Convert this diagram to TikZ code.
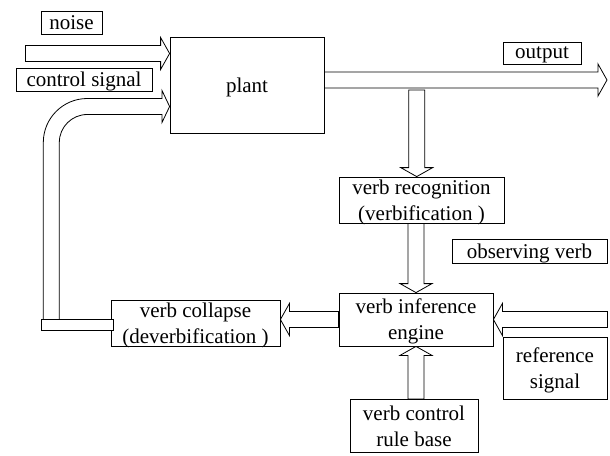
\documentclass[tikz,border=0pt]{standalone}
\usepackage{fontspec}
\newfontfamily\timesfont{Liberation Serif}
\usetikzlibrary{calc,backgrounds}

\tikzset{
  box/.style={draw=black, fill=white, line width=0.8pt, inner sep=0pt,
              align=center, text depth=0pt, font=\timesfont\fontsize{21}{26}\selectfont},
  fat/.style={draw=black, fill=white, line width=0.8pt, line join=miter},
}

% Block arrow from tail #1 to tip #2: shaft 16pt wide, head 32pt wide, 9pt long
\newcommand\fatarrow[2]{%
  \coordinate (fa-base) at ($(#2)!9pt!(#1)$);
  \draw[fat] ($(#1)!8pt!90:(#2)$) -- ($(fa-base)!8pt!90:(#2)$)
    -- ($(fa-base)!16pt!90:(#2)$) -- (#2)
    -- ($(fa-base)!16pt!-90:(#2)$) -- ($(fa-base)!8pt!-90:(#2)$)
    -- ($(#1)!8pt!-90:(#2)$) -- cycle;
}

\begin{document}
\begin{tikzpicture}[x=1pt,y=-1pt]
\useasboundingbox (0,0) rectangle (610,455);

% blocks and labels
\node[box, minimum width=61,  minimum height=23] (noise)    at (71.5,22.5) {noise};
\node[box, minimum width=136, minimum height=23] (ctrl)     at (84,79.5)   {control signal};
\node[box, minimum width=154, minimum height=96] (plant)    at (247,85)    {plant};
\node[box, minimum width=78,  minimum height=22] (out)      at (542,53)    {output};
\node[box, minimum width=165, minimum height=46] (recog)    at (421.5,200) {verb recognition\\(verbification )};
\node[box, minimum width=155, minimum height=24] (obs)      at (529.5,251) {observing verb};
\node[box, minimum width=154, minimum height=53] (engine)   at (416,319.5) {verb inference\\engine};
\node[box, minimum width=169, minimum height=46] (collapse) at (195.5,323) {verb collapse\\(deverbification )};
\node[box, minimum width=104, minimum height=62] (refsig)   at (555,368)   {reference\\signal};
\node[box, minimum width=128, minimum height=53] (rules)    at (414,426)   {verb control\\rule base};
\node[fat, inner sep=0pt, minimum width=72, minimum height=11] (fbbar) at (77,324.5) {};

% signal flow
\begin{scope}[on background layer]
  % disturbance input
  \coordinate (noiseTail) at (25.5,53.5);
  \coordinate (noiseTip)  at (plant.west |- noiseTail);
  \fatarrow{noiseTail}{noiseTip}

  % plant output
  \coordinate (outLevel) at (0,80);
  \coordinate (outTail)  at (plant.east |- outLevel);
  \coordinate (outTip)   at (607,80);
  \fatarrow{outTail}{outTip}

  % measurement tap to verb recognition
  \coordinate (tapTail) at (416.7,90);
  \coordinate (tapTip)  at (tapTail |- recog.north);
  \fatarrow{tapTail}{tapTip}

  % observed verb into the inference engine
  \coordinate (obsTail) at (engine.north |- recog.south);
  \fatarrow{obsTail}{engine.north}

  % engine to verb collapse
  \coordinate (colTip) at (collapse.east |- engine.west);
  \fatarrow{engine.west}{colTip}

  % reference signal into the engine
  \coordinate (refTail) at (refsig.east |- engine.east);
  \fatarrow{refTail}{engine.east}

  % rule base into the engine
  \coordinate (ruleTail) at (engine.south |- rules.north);
  \fatarrow{ruleTail}{engine.south}

  % control signal fed back to the plant
  \coordinate (fbLevel) at (0,106.5);
  \coordinate (fbTip) at (plant.west |- fbLevel);
  \draw[fat] (43.3,324) -- (43.3,142.5)
    .. controls (43.3,118.2) and (63,98.5) .. (87.3,98.5)
    -- (162,98.5) -- (162,90.5) -- (fbTip) -- (162,122.5) -- (162,114.5)
    -- (87.3,114.5)
    .. controls (71.8,114.5) and (59.3,127) .. (59.3,142.5)
    -- (59.3,324) -- cycle;
\end{scope}
\end{tikzpicture}
\end{document}
